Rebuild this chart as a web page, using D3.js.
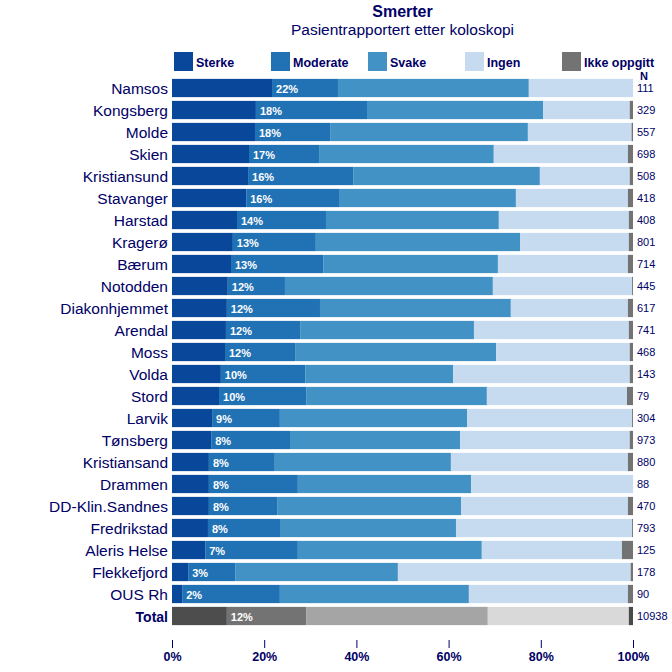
<!DOCTYPE html>
<html>
<head>
<meta charset="utf-8">
<script src="https://cdn.jsdelivr.net/npm/d3@7"></script>
<style>
  html, body { margin: 0; padding: 0; background: #fff; }
  svg { display: block; font-family: "Liberation Sans", Arial, sans-serif; }
</style>
</head>
<body>
<svg id="chart" width="672" height="672"></svg>
<script>
// ---- Data ----
const categories = ["Namsos","Kongsberg","Molde","Skien","Kristiansund","Stavanger","Harstad","Kragerø","Bærum","Notodden","Diakonhjemmet","Arendal","Moss","Volda","Stord","Larvik","Tønsberg","Kristiansand","Drammen","DD-Klin.Sandnes","Fredrikstad","Aleris Helse","Flekkefjord","OUS Rh","Total"];
const seriesNames = ["Sterke","Moderate","Svake","Ingen","Ikke oppgitt"];
const sterke   = [21.7,18.2,18.0,16.7,16.5,16.1,14.1,13.2,12.8,12.1,11.9,11.7,11.5,10.6,10.2,8.7,8.5,8.0,8.0,8.0,7.8,7.2,3.5,2.2,11.9];
const moderate = [14.3,24.1,16.3,15.2,22.8,20.3,19.3,18.0,20.0,12.4,20.2,16.1,15.2,18.3,18.9,14.7,17.1,14.3,19.3,14.8,15.8,20.1,10.2,21.2,17.2];
const svake    = [41.4,38.2,42.9,37.9,40.5,38.2,37.5,44.3,37.9,45.1,41.4,37.7,43.6,32.1,39.2,40.6,36.9,38.2,37.6,39.9,38.0,39.9,35.3,41.0,39.4];
const ingen    = [22.6,18.8,22.5,29.1,19.5,24.3,28.2,23.6,28.2,30.2,25.4,33.6,29.0,38.3,30.4,35.8,36.8,38.4,35.1,36.2,38.2,30.4,50.5,34.5,30.6];
const ikke     = [0.0,0.7,0.3,1.1,0.7,1.1,0.9,0.9,1.1,0.2,1.1,0.9,0.7,0.7,1.3,0.2,0.7,1.1,0.0,1.1,0.2,2.4,0.5,1.1,0.9];
const nValues  = [111,329,557,698,508,418,408,801,714,445,617,741,468,143,79,304,973,880,88,470,793,125,178,90,10938];
const pctLabels = ["22%","18%","18%","17%","16%","16%","14%","13%","13%","12%","12%","12%","12%","10%","10%","9%","8%","8%","8%","8%","8%","7%","3%","2%","12%"];
const tickValues = [0,20,40,60,80,100];
const tickLabels = ["0%","20%","40%","60%","80%","100%"];
const title = "Smerter";
const subtitle = "Pasientrapportert etter koloskopi";

const colors = ["#08479a","#2171b5","#4292c6","#c6dbef","#737373"];
const totalColors = ["#4d4d4d","#737373","#a5a5a5","#d9d9d9","#4a4a4a"];
const navy = "#000066";

// ---- Build ----
const svg = d3.select("#chart");
const x = d3.scaleLinear().domain([0,100]).range([172,633]);
const y = d3.scaleBand().domain(categories).range([77,627]).paddingInner(0.17).paddingOuter(0.085);

const rows = categories.map((c,i) => {
  const vals = [sterke[i], moderate[i], svake[i], ingen[i], ikke[i]];
  let acc = 0;
  const segs = vals.map((v,k) => { const s = {k, x0: acc, x1: acc + v}; acc += v; return s; });
  return {c, i, segs, isTotal: c === "Total"};
});

// Title
svg.append("text").attr("x", x(50)).attr("y", 17).attr("text-anchor","middle")
  .attr("font-size", 16).attr("font-weight","bold").attr("fill", navy).text(title);
svg.append("text").attr("x", x(50)).attr("y", 35).attr("text-anchor","middle")
  .attr("font-size", 15.5).attr("fill", navy).text(subtitle);

// Legend
const legend = svg.append("g");
seriesNames.forEach((name,k) => {
  const lx = 174 + k*97;
  legend.append("rect").attr("x", lx).attr("y", 52).attr("width", 19).attr("height", 19).attr("fill", colors[k]);
  legend.append("text").attr("x", lx + 22).attr("y", 67).attr("font-size", 12.5).attr("font-weight","bold")
    .attr("fill", navy).text(name);
});

// Bars
const g = svg.append("g");
rows.forEach(r => {
  const cols = r.isTotal ? totalColors : colors;
  g.selectAll(null).data(r.segs.filter(s => s.x1 > s.x0)).enter().append("rect")
    .attr("x", s => x(s.x0))
    .attr("y", y(r.c))
    .attr("width", s => x(s.x1) - x(s.x0))
    .attr("height", y.bandwidth())
    .attr("fill", s => cols[s.k]);
  // percent label
  g.append("text").attr("x", x(r.segs[0].x1) + 4).attr("y", y(r.c) + y.bandwidth()/2 + 4.5)
    .attr("font-size", 11).attr("font-weight","bold").attr("fill","#fff").text(pctLabels[r.i]);
  // category label
  g.append("text").attr("x", 168).attr("y", y(r.c) + y.bandwidth()/2 + 5.5)
    .attr("text-anchor","end").attr("font-size", r.isTotal ? 14 : 15.5)
    .attr("font-weight", r.isTotal ? "bold" : "normal").attr("fill", navy).text(r.c);
  // N
  g.append("text").attr("x", 637).attr("y", y(r.c) + y.bandwidth()/2 + 4)
    .attr("font-size", 11).attr("fill", navy).text(nValues[r.i]);
});

// N header
svg.append("text").attr("x", 644).attr("y", 80).attr("text-anchor","middle")
  .attr("font-size", 11).attr("font-weight","bold").attr("fill", navy).text("N");

// Axis
const axis = d3.axisBottom(x).tickValues(tickValues).tickSize(8).tickPadding(4)
  .tickFormat((d,i) => tickLabels[i]);
const ax = svg.append("g").attr("transform","translate(0,640)").call(axis);
ax.select(".domain").remove();
ax.selectAll(".tick line").attr("stroke", navy);
ax.selectAll(".tick text").attr("fill", navy).attr("font-size", 12.5).attr("font-weight","bold")
  .attr("font-family", "'Liberation Sans', Arial, sans-serif");
</script>
</body>
</html>
